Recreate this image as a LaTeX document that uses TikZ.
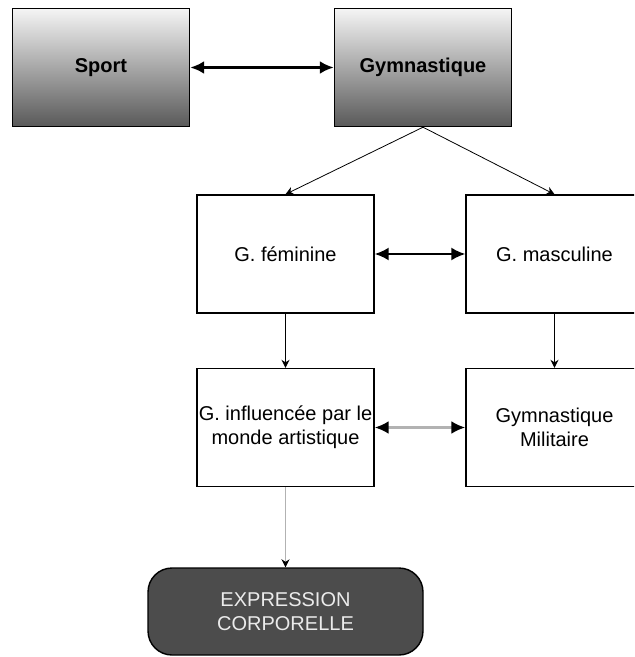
\documentclass[tikz,border=0pt]{standalone}
\usepackage{fontspec}
\setmainfont{Liberation Sans}
\usetikzlibrary{arrows.meta}
\tikzset{box/.style = {draw, line width=0.7pt, minimum width=88.5pt, minimum height=59pt, inner sep=0, align=center, font=\fontsize{10}{12}\selectfont}}
\tikzset{topbox/.style = {box, top color=black!4, bottom color=black!65, font=\fontsize{10}{12}\selectfont\bfseries}}
\tikzset{endbox/.style = {box, fill=black!70, text=black!8, minimum width=137.5pt, minimum height=43.5pt, rounded corners=12pt}}
\tikzset{both/.style = {{Latex[length=7pt,width=6.5pt,black]}-{Latex[length=7pt,width=6.5pt,black]}}}
\tikzset{down/.style = {-{Stealth[length=4pt,width=4pt,black]}, line width=0.5pt}}

\begin{document}
\begin{tikzpicture}[x=0.5pt, y=-0.5pt]
        \useasboundingbox (0,0) rectangle (634,657);
        \clip (0,0) rectangle (634,657);
        \node [topbox] (sport) at (101,67.5) {Sport};
        \node [topbox] (gym) at (423,67.5) {Gymnastique};
        \node [box] (fem) at (285.5,254) {G. féminine};
        \node [box] (masc) at (554.5,254) {G. masculine};
        \node [box] (infl) at (285.5,427.5) {G. influencée par le\\monde artistique};
        \node [box] (mil) at (554.5,427.5) {Gymnastique\\Militaire};
        \node [endbox] (expr) at (285.5,611.5) {EXPRESSION\\CORPORELLE};
        \draw [both, line width=1.5pt] (sport) -- (gym);
        \draw [down, line width=0.4pt] (gym.south) -- (fem.north);
        \draw [down, line width=0.4pt] (gym.south) -- (masc.north);
        \draw [both, line width=1pt] (fem) -- (masc);
        \draw [down] (fem) -- (infl);
        \draw [down] (masc) -- (mil);
        \draw [both, line width=1.3pt, draw=black!30] (infl) -- (mil);
        \draw [down, line width=0.9pt, draw=black!30] (infl) -- (expr);
    \end{tikzpicture}
\end{document}
